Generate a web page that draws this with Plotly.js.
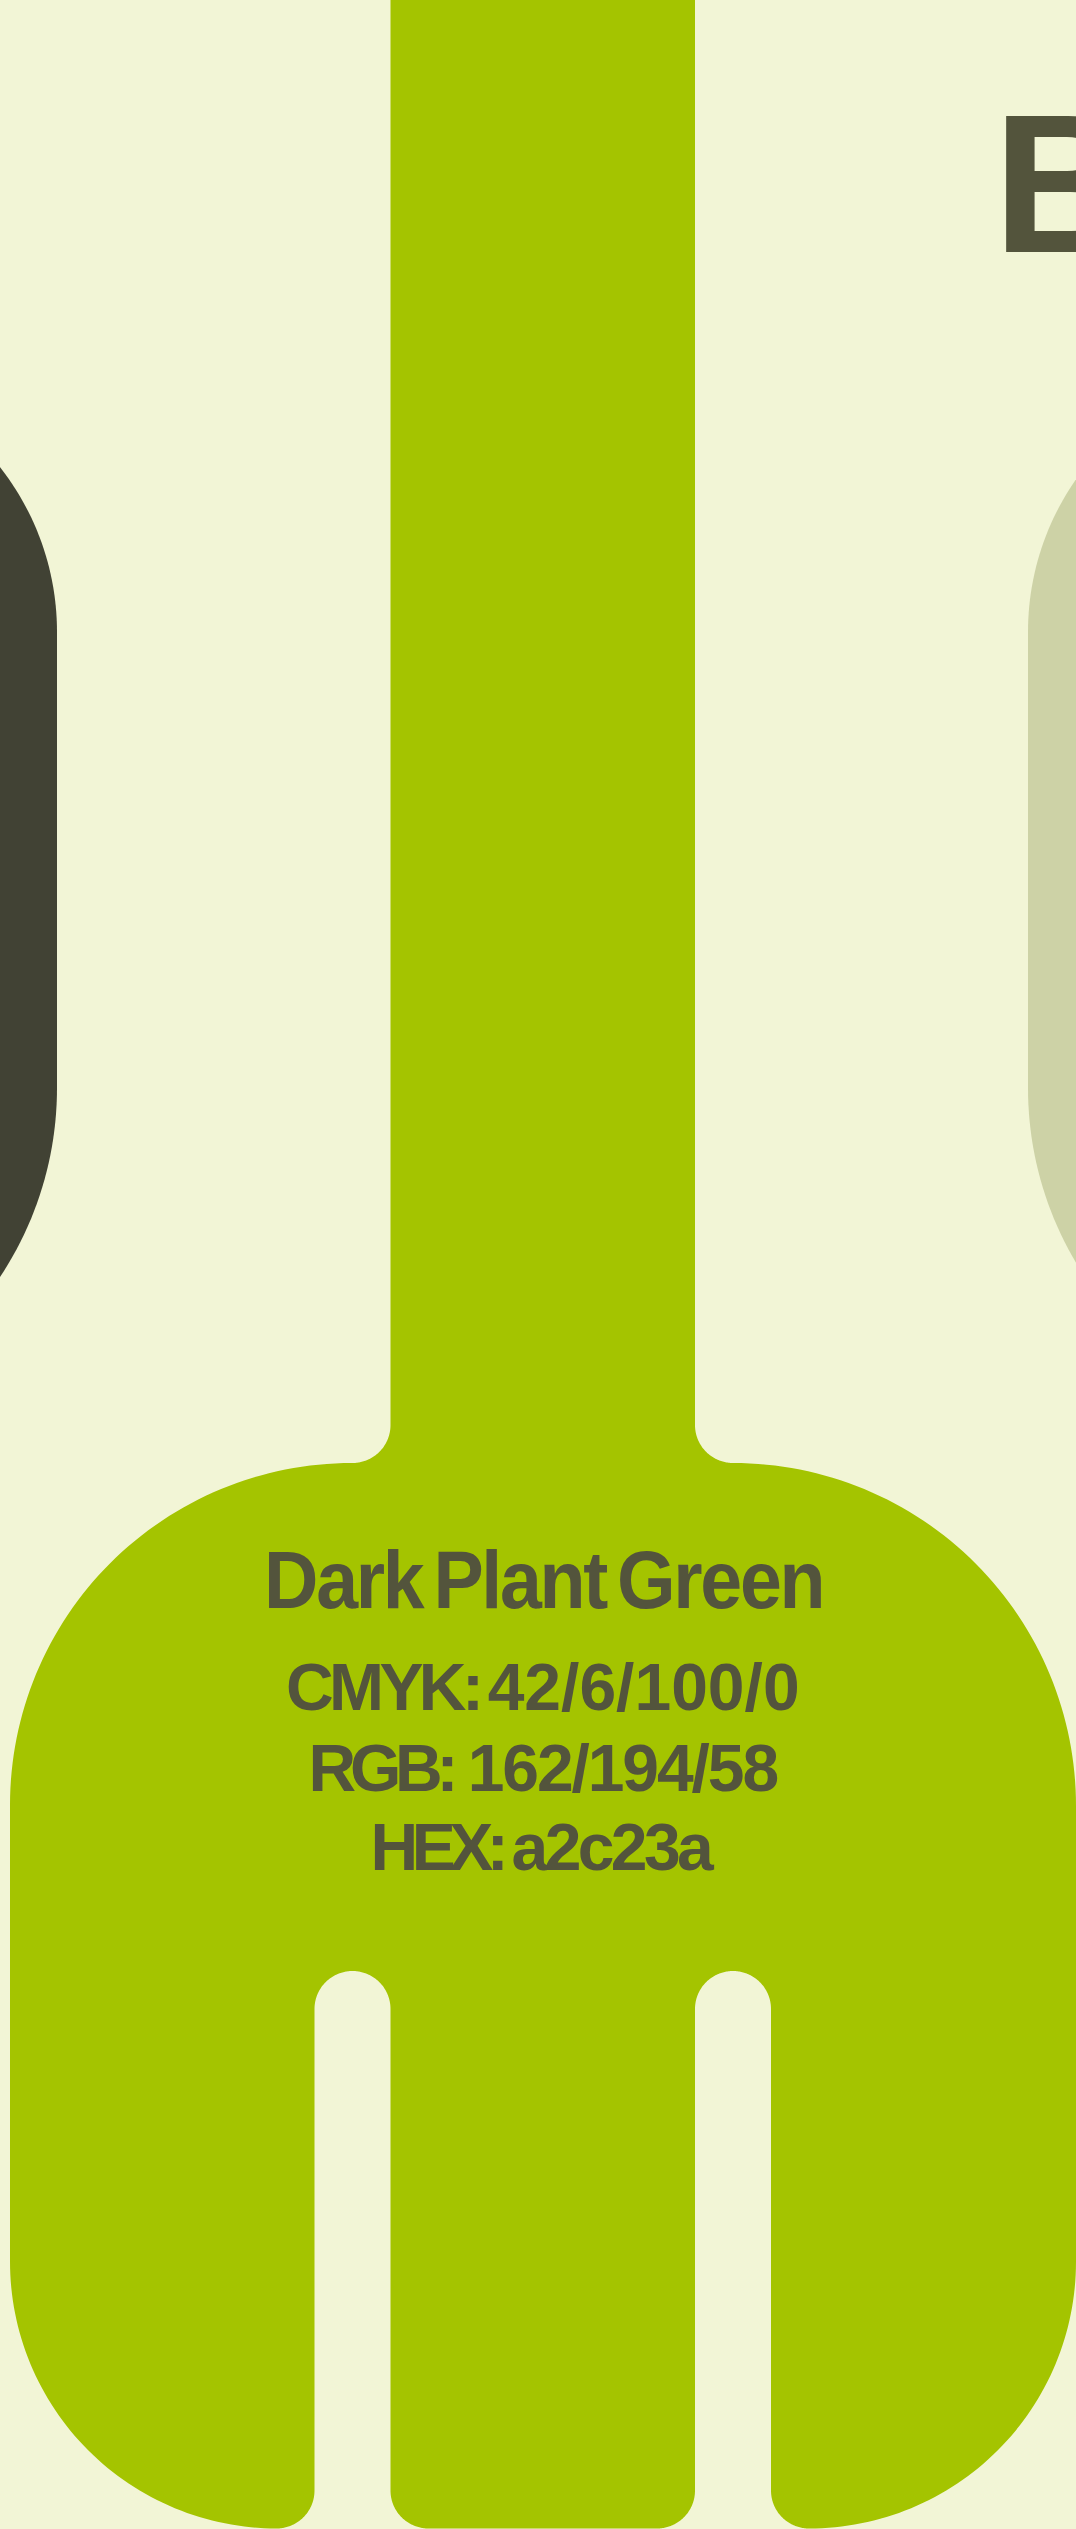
<!DOCTYPE html>
<html>
<head>
<meta charset="utf-8">
<script src="https://cdn.plot.ly/plotly-3.0.1.min.js"></script>
<style>
html,body{margin:0;padding:0;background:#f2f5d6;overflow:hidden}
#chart{width:1076px;height:2529px}
.annotation[data-index="0"] text{letter-spacing:-2.5px;word-spacing:-8px;transform-box:fill-box;transform-origin:center;transform:scaleX(.93)}
.annotation[data-index="1"] text{word-spacing:-10px}
.annotation[data-index="2"] text{word-spacing:-3px}
.annotation[data-index="3"] text{word-spacing:-9px}
</style>
</head>
<body>
<div id="chart"></div>
<script>
// Outline corners of each figure [x], [y], and the corner radius
var forkX = [390.5,390.5,10,10,314.5,314.5,390.5,390.5,695,695,771,771,1076,1076,695,695];
var forkY = [-10,1463,1463,2528.5,2528.5,1971,1971,2528.5,2528.5,1971,1971,2528.5,2528.5,1463,1463,-10];
var forkR = [0,38,342,267,38,38,38,38,38,38,38,38,267,343,38,0];

var darkX = [-300,57,57,-300];
var darkY = [365,365,1430,1430];
var darkR = [0,267,342,0];

var paleX = [1400,1028,1028,1400];
var paleY = [365,365,1430,1430];
var paleR = [0,267,342,0];

var colours = {background:'#f2f5d6', fork:'#a4c400', dark:'#414234', pale:'#cdd2a6', text:'#53543c'};

var labelTexts = [
  'Dark Plant Green',
  '<span style="letter-spacing:-4.6px">CMYK:</span> <span style="letter-spacing:0">42/6/100/0</span>',
  '<span style="letter-spacing:-6.2px">RGB:</span> <span style="letter-spacing:-2.1px">162/194/58</span>',
  '<span style="letter-spacing:-6.5px">HEX:</span> <span style="letter-spacing:-3.6px">a2c23a</span>'
];
var labelSizes = [81,66,66,66];
var labelY = [1579.5,1687,1767.5,1847];
var cropLetter = 'B';

function rounded(xs,ys,rs){
  var ox=[],oy=[],n=xs.length,steps=64;
  for(var i=0;i<n;i++){
    var r=rs[i],x=xs[i],y=ys[i];
    if(!r){ox.push(x);oy.push(y);continue;}
    var p=(i+n-1)%n,q=(i+1)%n;
    var ax=xs[p]-x,ay=ys[p]-y,bx=xs[q]-x,by=ys[q]-y;
    var la=Math.hypot(ax,ay),lb=Math.hypot(bx,by);
    ax/=la;ay/=la;bx/=lb;by/=lb;
    var cx=x+(ax+bx)*r,cy=y+(ay+by)*r; // right-angle corners
    for(var k=0;k<=steps;k++){
      var t=k/steps*Math.PI/2;
      ox.push(cx-bx*r*Math.cos(t)-ax*r*Math.sin(t));
      oy.push(cy-by*r*Math.cos(t)-ay*r*Math.sin(t));
    }
  }
  ox.push(ox[0]);oy.push(oy[0]);
  return {x:ox,y:oy};
}
function shapeTrace(xs,ys,rs,colour,name){
  var o=rounded(xs,ys,rs);
  return {type:'scatter',mode:'lines',x:o.x,y:o.y,fill:'toself',fillcolor:colour,
          line:{width:0,color:colour,simplify:false},hoverinfo:'skip',showlegend:false,name:name};
}

var data=[
  shapeTrace(darkX,darkY,darkR,colours.dark,'dark'),
  shapeTrace(paleX,paleY,paleR,colours.pale,'pale'),
  shapeTrace(forkX,forkY,forkR,colours.fork,'Dark Plant Green')
];

var annotations=labelTexts.map(function(t,i){
  return {x:543,y:labelY[i],xref:'x',yref:'y',text:t,showarrow:false,xanchor:'center',yanchor:'middle',
          font:{family:'"Liberation Sans",Arial,sans-serif',size:labelSizes[i],color:colours.text,weight:700}};
});
annotations.push({x:991,y:184,xref:'x',yref:'y',text:cropLetter,showarrow:false,xanchor:'left',yanchor:'middle',
  font:{family:'"Liberation Sans",Arial,sans-serif',size:197,color:colours.text,weight:700}});

var layout={
  width:1076,height:2529,margin:{l:0,r:0,t:0,b:0,pad:0},
  paper_bgcolor:colours.background,plot_bgcolor:colours.background,showlegend:false,
  xaxis:{range:[0,1076],visible:false,fixedrange:true},
  yaxis:{range:[2529,0],visible:false,fixedrange:true},
  annotations:annotations
};
Plotly.newPlot('chart',data,layout,{displayModeBar:false,staticPlot:true});
</script>
</body>
</html>
